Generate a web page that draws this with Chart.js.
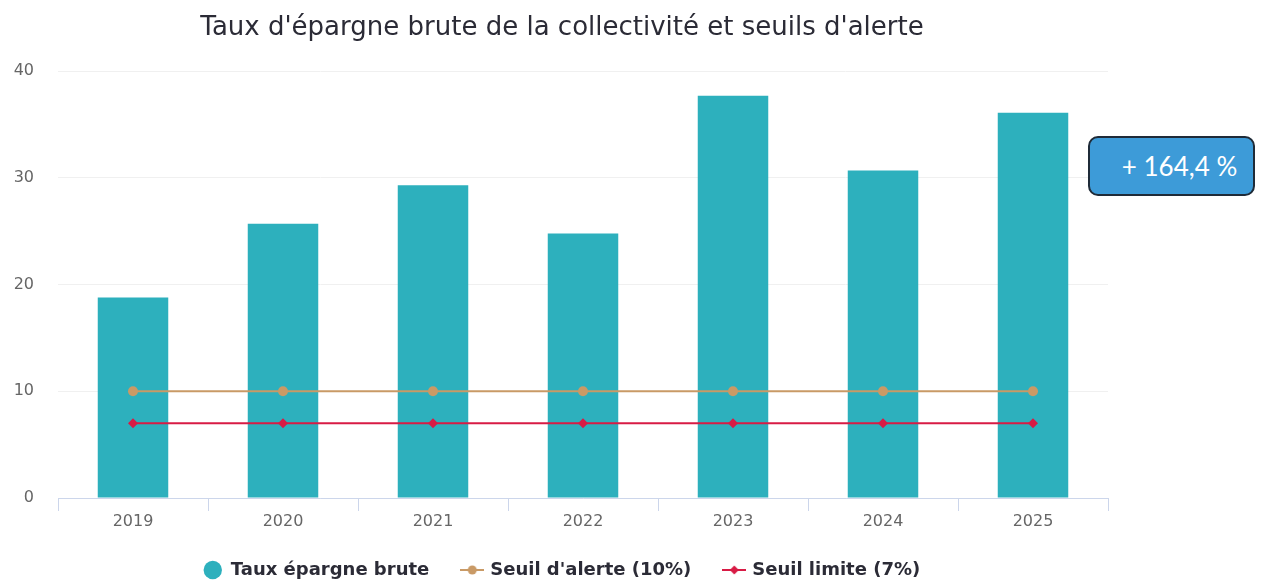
<!DOCTYPE html>
<html>
<head>
<meta charset="utf-8">
<script src="https://cdn.jsdelivr.net/npm/chart.js@4/dist/chart.umd.min.js"></script>
<style>
  html, body { margin: 0; padding: 0; background: #fff; }
  #wrap { position: relative; width: 1274px; height: 583px; overflow: hidden; }
  #callout {
    position: absolute; left: 1088px; top: 136px; width: 163px; height: 56px;
    background: #3d9bd8; border: 2px solid #1f2b38; border-radius: 10px;
    color: #fff; font: 26px Lato, "Open Sans", sans-serif;
    display: flex; align-items: center; justify-content: center;
    box-sizing: content-box; padding-left: 0;
  }
  #callout span { position: relative; left: 8px; }
</style>
</head>
<body>
<div id="wrap">
  <canvas id="chart" width="1274" height="583"></canvas>
  <div id="callout"><span>+ 164,4 %</span></div>
</div>
<script>
const years = ['2019', '2020', '2021', '2022', '2023', '2024', '2025'];
const tauxEpargne = [18.8, 25.7, 29.3, 24.8, 37.7, 30.7, 36.1];
const seuilAlerte = [10, 10, 10, 10, 10, 10, 10];
const seuilLimite = [7, 7, 7, 7, 7, 7, 7];
const yTicks = [0, 10, 20, 30, 40];

const tealColor = '#2db0bd';
const alertColor = '#c99a66';
const limitColor = '#d81b45';

// small line + marker icons for the legend
function legendIcon(color, diamond) {
  const c = document.createElement('canvas');
  c.width = 24; c.height = 12;
  const g = c.getContext('2d');
  g.strokeStyle = color; g.lineWidth = 2;
  g.beginPath(); g.moveTo(0, 6); g.lineTo(24, 6); g.stroke();
  g.fillStyle = color;
  g.beginPath();
  if (diamond) {
    g.moveTo(12, 1.5); g.lineTo(16.5, 6); g.lineTo(12, 10.5); g.lineTo(7.5, 6);
  } else {
    g.arc(12, 6, 4.5, 0, Math.PI * 2);
  }
  g.fill();
  return c;
}
const icons = ['circle', legendIcon(alertColor, false), legendIcon(limitColor, true)];

new Chart(document.getElementById('chart'), {
  data: {
    labels: years,
    datasets: [
      {
        type: 'line', label: "Seuil d'alerte (10%)", data: seuilAlerte,
        borderColor: alertColor, backgroundColor: alertColor, borderWidth: 2,
        pointStyle: 'circle', pointRadius: 5, pointBorderWidth: 0, order: 1
      },
      {
        type: 'line', label: 'Seuil limite (7%)', data: seuilLimite,
        borderColor: limitColor, backgroundColor: limitColor, borderWidth: 2,
        pointStyle: 'rectRot', pointRadius: 5, pointBorderWidth: 0, order: 0
      },
      {
        type: 'bar', label: 'Taux épargne brute', data: tauxEpargne,
        backgroundColor: tealColor, barPercentage: 0.47, categoryPercentage: 1,
        order: 2
      }
    ]
  },
  options: {
    responsive: false,
    animation: false,
    layout: { padding: { left: 0, right: 150, top: 8, bottom: -6 } },
    plugins: {
      title: {
        display: true,
        text: "Taux d'épargne brute de la collectivité et seuils d'alerte",
        color: '#2b2b36',
        font: { family: 'DejaVu Sans', size: 26, weight: 'normal' },
        padding: { top: 5, bottom: 27 }
      },
      legend: {
        position: 'bottom',
        labels: {
          usePointStyle: true,
          color: '#2b2b36',
          font: { family: 'DejaVu Sans', size: 18, weight: 'bold' },
          boxHeight: 13,
          padding: 34,
          generateLabels(chart) {
            const order = [2, 0, 1];
            return order.map((di, i) => {
              const ds = chart.data.datasets[di];
              return {
                text: ds.label, datasetIndex: di,
                fillStyle: ds.backgroundColor, strokeStyle: ds.backgroundColor,
                lineWidth: 0, pointStyle: icons[i], fontColor: '#2b2b36'
              };
            });
          }
        }
      },
      tooltip: { enabled: false }
    },
    scales: {
      x: {
        afterFit(axis) { axis.height = 29; },
        grid: { offset: true, drawOnChartArea: false, drawTicks: true, tickLength: 13, color: '#ccd6eb' },
        border: { color: '#ccd6eb' },
        ticks: { color: '#666666', font: { family: 'DejaVu Sans', size: 16 }, padding: 1 }
      },
      y: {
        min: 0, max: 40,
        afterBuildTicks(axis) { axis.ticks = yTicks.map(v => ({ value: v })); },
        afterFit(axis) { axis.width = 58; },
        grid: { color: '#f0f0f0', drawTicks: false },
        border: { display: false },
        ticks: { color: '#666666', font: { family: 'DejaVu Sans', size: 16 }, padding: 24 }
      },
      yRight: {
        position: 'right',
        afterFit(axis) { axis.width = 16; },
        grid: { display: false },
        border: { display: false },
        ticks: { display: false }
      }
    }
  }
});
</script>
</body>
</html>
